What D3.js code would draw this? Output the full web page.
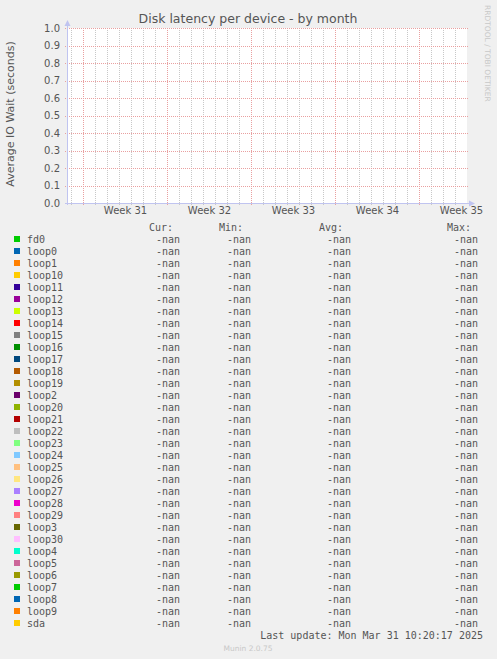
<!DOCTYPE html>
<html><head><meta charset="utf-8">
<script src="https://cdn.jsdelivr.net/npm/d3@7/dist/d3.min.js"></script>
<style>html,body{margin:0;padding:0;background:#f0f0f0;}svg{display:block}</style>
</head><body><svg id="c" width="497" height="659"></svg>
<script>
const title = "Disk latency per device - by month";
const yLabel = "Average IO Wait (seconds)";
const watermark = "RRDTOOL / TOBI OETIKER";
const footer = "Munin 2.0.75";
const lastUpdate = "Last update: Mon Mar 31 10:20:17 2025";
const devices = ["fd0","loop0","loop1","loop10","loop11","loop12","loop13","loop14","loop15","loop16","loop17","loop18","loop19","loop2","loop20","loop21","loop22","loop23","loop24","loop25","loop26","loop27","loop28","loop29","loop3","loop30","loop4","loop5","loop6","loop7","loop8","loop9","sda"];
const colors = ["#00CC00","#0066B3","#FF8000","#FFCC00","#330099","#990099","#CCFF00","#FF0000","#808080","#008F00","#00487D","#B35A00","#B38F00","#6B006B","#8FB300","#B30000","#BEBEBE","#80FF80","#80C9FF","#FFC080","#FFE680","#AA80FF","#EE00CC","#FF8080","#666600","#FFBFFF","#00FFCC","#CC6699","#999900","#00CC00","#0066B3","#FF8000","#FFCC00"];
const curValues = [NaN,NaN,NaN,NaN,NaN,NaN,NaN,NaN,NaN,NaN,NaN,NaN,NaN,NaN,NaN,NaN,NaN,NaN,NaN,NaN,NaN,NaN,NaN,NaN,NaN,NaN,NaN,NaN,NaN,NaN,NaN,NaN,NaN];
const minValues = [NaN,NaN,NaN,NaN,NaN,NaN,NaN,NaN,NaN,NaN,NaN,NaN,NaN,NaN,NaN,NaN,NaN,NaN,NaN,NaN,NaN,NaN,NaN,NaN,NaN,NaN,NaN,NaN,NaN,NaN,NaN,NaN,NaN];
const avgValues = [NaN,NaN,NaN,NaN,NaN,NaN,NaN,NaN,NaN,NaN,NaN,NaN,NaN,NaN,NaN,NaN,NaN,NaN,NaN,NaN,NaN,NaN,NaN,NaN,NaN,NaN,NaN,NaN,NaN,NaN,NaN,NaN,NaN];
const maxValues = [NaN,NaN,NaN,NaN,NaN,NaN,NaN,NaN,NaN,NaN,NaN,NaN,NaN,NaN,NaN,NaN,NaN,NaN,NaN,NaN,NaN,NaN,NaN,NaN,NaN,NaN,NaN,NaN,NaN,NaN,NaN,NaN,NaN];
const legendHeaders = ["Cur:","Min:","Avg:","Max:"];
const yTicks = [0.0,0.1,0.2,0.3,0.4,0.5,0.6,0.7,0.8,0.9,1.0];
const weekLabels = ["Week 31","Week 32","Week 33","Week 34","Week 35"];
const weekStarts = ["2025-07-28","2025-08-04","2025-08-11","2025-08-18","2025-08-25"];
const timeDomain = ["2025-07-26T16:00:00Z","2025-08-29T00:00:00Z"];

const svg = d3.select("#c");
const L = 67, R = 467, T = 28, B = 203;
const x = d3.scaleUtc().domain(timeDomain.map(d => new Date(d))).range([L, R]);
const y = d3.scaleLinear().domain([0, 1]).range([B, T]);
const sans = "DejaVu Sans", mono = "DejaVu Sans Mono";
const txt = "#555";

// plot background
svg.append("rect").attr("x", L).attr("y", T).attr("width", R - L).attr("height", B - T).attr("fill", "#fff");

const weekDates = weekStarts.map(d => new Date(d + "T00:00:00Z"));
const weekSet = new Set(weekDates.map(d => +d));
const days = d3.utcDay.range(x.domain()[0], x.domain()[1]).filter(d => !weekSet.has(+d));

const g = svg.append("g");
// minor vertical grid
g.selectAll("line.minor").data(days).join("line")
  .attr("x1", d => Math.round(x(d)) + 0.5).attr("x2", d => Math.round(x(d)) + 0.5)
  .attr("y1", T).attr("y2", B + 2)
  .attr("stroke", "#c8c8c8").attr("stroke-width", 1).attr("stroke-dasharray", "1,1");
// major vertical grid
g.selectAll("line.major").data(weekDates).join("line")
  .attr("x1", d => Math.round(x(d)) + 0.5).attr("x2", d => Math.round(x(d)) + 0.5)
  .attr("y1", T).attr("y2", B + 3)
  .attr("stroke", "#e9a0a0").attr("stroke-width", 1).attr("stroke-dasharray", "1,1");
// horizontal grid
g.selectAll("line.h").data(yTicks.filter(v => v > 0)).join("line")
  .attr("x1", L - 2).attr("x2", R + 1)
  .attr("y1", d => Math.round(y(d)) + 0.5).attr("y2", d => Math.round(y(d)) + 0.5)
  .attr("stroke", "#e9a0a0").attr("stroke-width", 1).attr("stroke-dasharray", "1,1");

// series (all NaN, nothing drawn)
const line = d3.line().defined(d => !isNaN(d.v)).x(d => x(d.t)).y(d => y(d.v));
devices.forEach((dev, i) => {
  const pts = [{t: x.domain()[0], v: curValues[i]}, {t: x.domain()[1], v: curValues[i]}];
  svg.append("path").attr("d", line(pts) || "").attr("fill", "none").attr("stroke", colors[i]);
});

// axes lines
const axisCol = "#c0c4f0";
svg.append("line").attr("x1", L + 0.5).attr("x2", L + 0.5).attr("y1", B + 2).attr("y2", T - 4)
  .attr("stroke", axisCol);
svg.append("path").attr("d", `M${L - 2.5},${T - 2} L${L + 0.5},${T - 8} L${L + 3.5},${T - 2} Z`).attr("fill", axisCol);
svg.append("line").attr("x1", L - 2).attr("x2", R + 4).attr("y1", B + 0.5).attr("y2", B + 0.5)
  .attr("stroke", axisCol);
svg.append("path").attr("d", `M${R + 2},${B - 2.5} L${R + 8},${B + 0.5} L${R + 2},${B + 3.5} Z`).attr("fill", axisCol);

// y axis labels
const yAxis = d3.axisLeft(y).tickValues(yTicks).tickFormat(d3.format(".1f")).tickSize(0).tickPadding(7);
const ya = svg.append("g").attr("transform", `translate(${L},0)`).call(yAxis);
ya.select(".domain").remove();
ya.selectAll("text").attr("font-family", sans).attr("font-size", 10).attr("fill", txt);

// x axis labels (centered in each week)
const mids = weekDates.map(d => d3.utcHour.offset(d, 84));
const xAxis = d3.axisBottom(x).tickValues(mids).tickFormat((d, i) => weekLabels[i]).tickSize(0).tickPadding(4);
const xa = svg.append("g").attr("transform", `translate(0,${B})`).call(xAxis);
xa.select(".domain").remove();
xa.selectAll("text").attr("font-family", sans).attr("font-size", 10).attr("fill", txt);

// title
svg.append("text").attr("x", 248).attr("y", 23).attr("text-anchor", "middle")
  .attr("font-family", sans).attr("font-size", 12.5).attr("fill", txt).text(title);
// y label
svg.append("text").attr("transform", `translate(14,114) rotate(-90)`).attr("text-anchor", "middle")
  .attr("font-family", sans).attr("font-size", 11).attr("fill", txt).text(yLabel);
// watermark
svg.append("text").attr("transform", `translate(485,5) rotate(90)`).attr("text-anchor", "start")
  .attr("font-family", sans).attr("font-size", 7.5).attr("fill", "#c8c8c8").text(watermark);

// legend
const rowY = d3.scalePoint().domain(devices).range([239, 623]);
const colStart = [149, 219, 319, 447];
const valEnd = [180, 251, 351, 478];
const fmt = v => isNaN(v) ? "-nan" : d3.format(".2f")(v);
svg.selectAll("text.hdr").data(legendHeaders).join("text")
  .attr("x", (d, i) => colStart[i]).attr("y", 230.5)
  .attr("font-family", mono).attr("font-size", 10).attr("fill", txt).text(d => d);
const rows = svg.selectAll("g.row").data(devices).join("g")
  .attr("transform", d => `translate(0,${rowY(d)})`);
rows.append("rect").attr("x", 14).attr("y", -3).attr("width", 6).attr("height", 6)
  .attr("fill", (d, i) => colors[i]);
rows.append("text").attr("x", 27).attr("y", 3.5)
  .attr("font-family", mono).attr("font-size", 10).attr("fill", txt).text(d => d);
const series = [curValues, minValues, avgValues, maxValues];
series.forEach((arr, c) => {
  rows.append("text").attr("x", valEnd[c]).attr("y", 3.5).attr("text-anchor", "end")
    .attr("font-family", mono).attr("font-size", 10).attr("fill", txt).text((d, i) => fmt(arr[i]));
});
svg.append("text").attr("x", 483).attr("y", 638.5).attr("text-anchor", "end")
  .attr("font-family", mono).attr("font-size", 10).attr("fill", txt).text(lastUpdate);
svg.append("text").attr("x", 248).attr("y", 651).attr("text-anchor", "middle")
  .attr("font-family", sans).attr("font-size", 7.5).attr("fill", "#c8c8c8").text(footer);
</script></body></html>
